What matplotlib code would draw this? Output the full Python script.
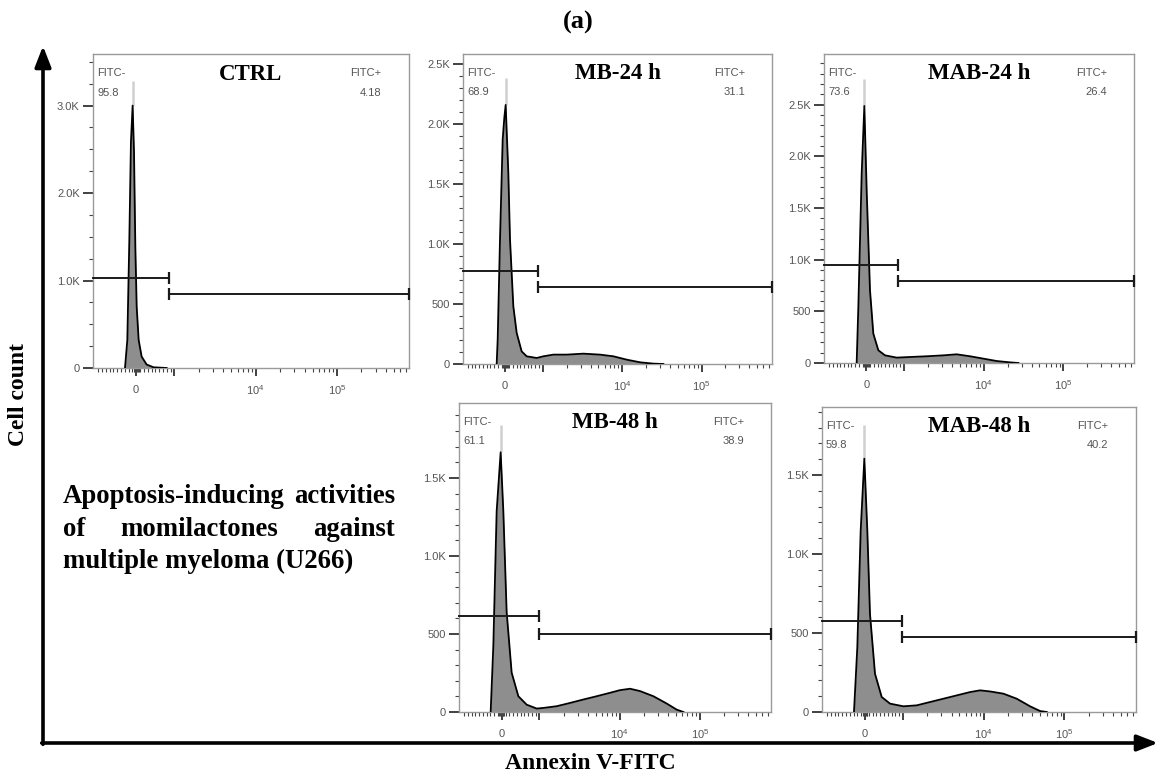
import matplotlib
matplotlib.use("Agg")
import matplotlib.pyplot as plt
from matplotlib.ticker import FixedLocator, FuncFormatter
from matplotlib.patches import FancyArrowPatch
import numpy as np

plt.rcParams["mathtext.fontset"] = "custom"
plt.rcParams["mathtext.rm"] = "Liberation Sans"
plt.rcParams["mathtext.it"] = "Liberation Sans"
plt.rcParams["mathtext.default"] = "regular"

# ---------------- data ----------------
titles = ["CTRL", "MB-24 h", "MAB-24 h", "MB-48 h", "MAB-48 h"]
fitc_neg = ["95.8", "68.9", "73.6", "61.1", "59.8"]
fitc_pos = ["4.18", "31.1", "26.4", "38.9", "40.2"]

ctrl_x = [-296, -235, -183, -140, -96, -60, -25, 10, 62, 140, 270, 450, 795]
ctrl_y = [0, 320, 1450, 2585, 3000, 2470, 1380, 700, 320, 130, 40, 8, 0]

mb24_x = [-232, -205, -143, -71, -27, 9, 80, 125, 214, 304, 437, 571, 839, 1020,
          1363, 2006, 3251, 5272, 7762, 11430, 16830, 24770, 33040]
mb24_y = [0, 203, 1036, 1870, 2050, 2156, 1592, 1036, 480, 258, 105, 64, 50, 64,
          78, 78, 86, 78, 64, 36, 14, 3, 0]

mab24_x = [-262, -217, -128, -57, 5, 94, 183, 317, 495, 806, 1192, 1929, 3124,
           4592, 6754, 9931, 14600, 21460, 27300]
mab24_y = [0, 542, 1832, 2487, 1671, 703, 284, 123, 74, 52, 58, 65, 74, 84, 65,
           42, 19, 6, 0]

mb48_x = [-294, -223, -135, -29, 42, 130, 263, 440, 661, 927, 1118, 1640, 2406,
          3528, 5172, 7586, 10110, 13480, 17950, 26320, 38630, 51470, 62300]
mb48_y = [0, 425, 1287, 1664, 1287, 640, 252, 101, 47, 22, 26, 37, 58, 80, 101,
          123, 140, 149, 134, 101, 54, 15, 0]

mab48_x = [-291, -203, -115, -18, 61, 131, 263, 439, 658, 1011, 1479, 2163, 3166,
           4633, 6773, 9014, 11990, 17540, 25670, 37540, 49940, 60400]
mab48_y = [0, 410, 1145, 1603, 1145, 620, 242, 95, 53, 36, 42, 63, 84, 105, 126,
           137, 130, 116, 84, 36, 6, 0]

hist_x = [ctrl_x, mb24_x, mab24_x, mb48_x, mab48_x]
hist_y = [ctrl_y, mb24_y, mab24_y, mb48_y, mab48_y]

# light grey tip above each main peak (x of peak, top of tip)
tip_x = [-96, 9, -57, -29, -18]
tip_top = [3280, 2383, 2752, 1836, 1817]

gate_split = [860, 870, 850, 985, 980]
gate_neg_y = [1030, 778, 945, 612, 578]
gate_pos_y = [850, 644, 794, 498, 477]

x_major = [0, 1000, 10000, 100000]
x_major_labels = ["$0$", "", "$10^4$", "$10^5$"]

block_lines = ["Apoptosis-inducing activities", "of momilactones against",
               "multiple myeloma (U266)"]

# ---------------- layout / style ----------------
W, H = 1160, 776
fig = plt.figure(figsize=(W / 100, H / 100), dpi=100)

def fx(x):
    return x / W

def fy(y):
    return 1 - y / H

boxes = [(93, 54, 409, 368), (463, 54, 772, 364), (824, 54, 1134, 363),
         (459, 403, 771, 712), (822, 407, 1136, 712)]
ymax = [3590, 2580, 2990, 1980, 1930]
ymaj = [1000, 500, 500, 500, 500]
ymin_step = [250, 100, 100, 100, 100]

SERIF = "Liberation Serif"
SANS = ["Liberation Sans", "DejaVu Sans"]
XLEFT, XRIGHT = -1156, 7.7e5

def yfmt(v, pos):
    if v == 0:
        return "0"
    if v >= 1000:
        return f"{v/1000:.1f}K"
    return f"{int(v)}"

lin_minor = [v for v in range(-1000, 1001, 100) if v != 0 and v != 1000]
dense = [-60, -40, -20, 20, 40, 60]
log_minor = [m * 10 ** e for e in (3, 4, 5) for m in range(2, 10) if m * 10 ** e < XRIGHT]
x_minor = lin_minor + dense + log_minor

for i, (l, t, r, b) in enumerate(boxes):
    ax = fig.add_axes([fx(l), fy(b), fx(r - l), (b - t) / H])
    ax.set_xscale("symlog", linthresh=1000, linscale=0.423)
    ax.set_xlim(XLEFT, XRIGHT)
    ax.set_ylim(0, ymax[i])

    ax.fill_between(hist_x[i], hist_y[i], 0, color="#8e8e8e", lw=0, zorder=2)
    ax.plot([tip_x[i], tip_x[i]], [max(hist_y[i]), tip_top[i]], color="#d0d0d0",
            lw=1.8, zorder=1, solid_capstyle="butt")
    ax.plot(hist_x[i], hist_y[i], color="black", lw=1.3, zorder=3)

    # gates
    gk = dict(color="#1a1a1a", lw=1.4, zorder=4, clip_on=False)
    ax.plot([XLEFT, gate_split[i]], [gate_neg_y[i]] * 2, **gk)
    ax.plot([gate_split[i]], [gate_neg_y[i]], marker="|", ms=9, mew=1.6,
            color="#1a1a1a", clip_on=False, zorder=4)
    ax.plot([gate_split[i], XRIGHT], [gate_pos_y[i]] * 2, **gk)
    ax.plot([gate_split[i], XRIGHT], [gate_pos_y[i]] * 2, ls="none", marker="|",
            ms=9, mew=1.6, color="#1a1a1a", clip_on=False, zorder=4)

    # ticks
    ax.xaxis.set_major_locator(FixedLocator(x_major))
    ax.set_xticklabels(x_major_labels)
    ax.xaxis.set_minor_locator(FixedLocator(x_minor))
    ax.yaxis.set_major_locator(FixedLocator(np.arange(0, ymax[i] + 1, ymaj[i])))
    ax.yaxis.set_major_formatter(FuncFormatter(yfmt))
    ax.yaxis.set_minor_locator(FixedLocator(np.arange(0, ymax[i] + 1, ymin_step[i])))
    ax.tick_params(axis="both", which="major", direction="out", color="#333333",
                   labelcolor="#555555", labelsize=8, width=1.3)
    ax.tick_params(axis="y", which="major", length=7, pad=2.5)
    ax.tick_params(axis="x", which="major", length=6, pad=5)
    ax.tick_params(axis="both", which="minor", direction="out", color="#444444",
                   length=3, width=0.8)
    for lab in ax.get_xticklabels() + ax.get_yticklabels():
        lab.set_family(SANS)
    for s in ax.spines.values():
        s.set_color("#9a9a9a")
        s.set_linewidth(1.0)

    ax.text(0.5, 0.936, titles[i], transform=ax.transAxes, ha="center", va="center",
            family=SERIF, weight="bold", fontsize=16.5, zorder=5)
    tk = dict(transform=ax.transAxes, family=SANS, fontsize=8, color="#555555", va="center")
    ax.text(0.013, 0.939, "FITC-", ha="left", **tk)
    ax.text(0.013, 0.876, fitc_neg[i], ha="left", **tk)
    ax.text(0.913, 0.939, "FITC+", ha="right", **tk)
    ax.text(0.913, 0.876, fitc_pos[i], ha="right", **tk)

# ---------------- big axis arrows ----------------
corner = (43, 743)
ak = dict(transform=fig.transFigure, arrowstyle="-|>,head_length=0.9,head_width=0.35",
          mutation_scale=14, lw=2.6, color="black", shrinkA=0, shrinkB=0)
fig.add_artist(FancyArrowPatch((fx(corner[0]), fy(corner[1] + 1.3)), (fx(43), fy(46)), **ak))
fig.add_artist(FancyArrowPatch((fx(corner[0] - 1.3), fy(corner[1])), (fx(1158), fy(743)), **ak))

fig.text(fx(590), fy(769), "Annexin V-FITC", ha="center", va="baseline",
         family=SERIF, weight="bold", fontsize=17)
fig.text(fx(19), fy(395), "Cell count", ha="center", va="center", rotation=90,
         family=SERIF, weight="bold", fontsize=17)
fig.text(fx(578), fy(22), "(a)", ha="center", va="center",
         family=SERIF, weight="bold", fontsize=19)

# ---------------- justified text block ----------------
renderer = fig.canvas.get_renderer()
bk = dict(family=SERIF, weight="bold", fontsize=19.3, va="baseline", ha="left")
left_px, right_px = 63, 395
for li, line in enumerate(block_lines):
    ybase = fy(503 + li * 32.5)
    if li == len(block_lines) - 1:
        fig.text(fx(left_px), ybase, line, **bk)
        continue
    words = line.split()
    arts = [fig.text(0, ybase, w, **bk) for w in words]
    widths = [a.get_window_extent(renderer).width for a in arts]
    gap = (right_px - left_px - sum(widths)) / (len(words) - 1)
    xcur = left_px
    for a, w in zip(arts, widths):
        a.set_x(fx(xcur))
        xcur += w + gap

fig.savefig("out.png", dpi=100)
